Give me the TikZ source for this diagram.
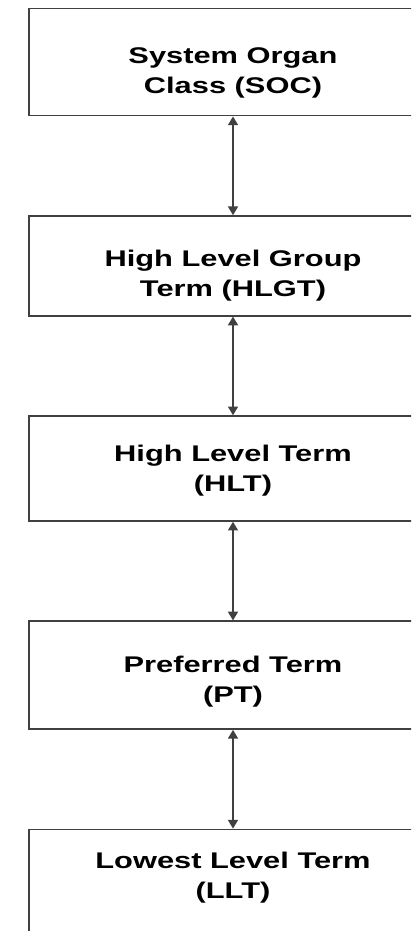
\documentclass[tikz,border=0pt]{standalone}
\usepackage{fontspec}
\setmainfont{Liberation Sans}
\newfontfamily\termfont[FakeStretch=1.36]{Liberation Sans}
\usetikzlibrary{arrows.meta, positioning}

\begin{document}
\begin{tikzpicture}[
    x=0.75pt, y=0.75pt,
    node distance=74pt, % gap between the levels
    term/.style={
      rectangle,
      draw=black!75,
      line width=1.1pt,
      fill=white,
      minimum width=306pt,
      minimum height=78.75pt,
      text height=45.75pt, % pushes the two lines a little below the middle
      text depth=4.3pt,
      align=center,
      font=\termfont\bfseries\fontsize{17}{22.5}\selectfont
    },
    link/.style={
      {Triangle[length=6.5pt, width=7.5pt]}-{Triangle[length=6.5pt, width=7.5pt]},
      line width=1pt,
      draw=black!75
    }
  ]

  % Frame of the picture (boxes run off the right and bottom edges)
  \useasboundingbox (0,0) rectangle (411,-931);
  \clip (0,0) rectangle (411,-931);

  % The levels, top to bottom
  \node[term, anchor=north, minimum height=80.25pt, text height=51.75pt] (soc) at (233,-8) {System Organ\\Class (SOC)};
  \node[term, below=of soc, minimum height=75pt, text height=49.5pt] (hlgt) {High Level Group\\Term (HLGT)};
  \node[term, below=of hlgt, text height=39pt] (hlt) {High Level Term\\(HLT)};
  \node[term, below=of hlt, minimum height=81pt] (pt) {Preferred Term\\(PT)};
  \node[term, below=of pt, text height=30pt] (llt) {Lowest Level Term\\(LLT)};

  % Links between the levels
  \draw[link] (soc) -- (hlgt);
  \draw[link] (hlgt) -- (hlt);
  \draw[link] (hlt) -- (pt);
  \draw[link] (pt) -- (llt);

\end{tikzpicture}
\end{document}
